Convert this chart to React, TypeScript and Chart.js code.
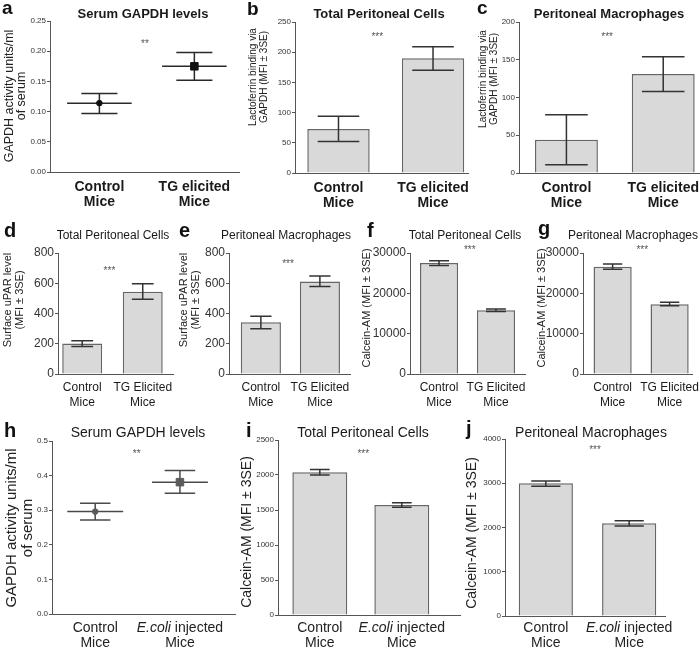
import React, { useEffect, useRef } from "react";
import { Chart, registerables } from "chart.js";

Chart.register(...registerables);

const FONT = "'Liberation Sans', Arial, Helvetica, sans-serif";

// ---------- categories ----------
const catsTG = [["Control", "Mice"], ["TG elicited", "Mice"]];
const catsTGE = [["Control", "Mice"], ["TG Elicited", "Mice"]];
const catsEcoli = [["Control", "Mice"], ["E.coli injected", "Mice"]];
const groupPos = [1, 2];

// ---------- series: mean, lower and upper error limits ----------
const aMean = [0.114, 0.175];
const aLow = [0.097, 0.152];
const aHigh = [0.13, 0.198];
const bMean = [73, 190];
const bLow = [52, 170];
const bHigh = [94, 209];
const cMean = [44, 131];
const cLow = [11, 108];
const cHigh = [77, 154];
const dMean = [202, 544];
const dLow = [182, 494];
const dHigh = [220, 597];
const eMean = [342, 612];
const eLow = [300, 578];
const eHigh = [382, 648];
const fMean = [27500, 15800];
const fLow = [26900, 15500];
const fHigh = [28100, 16100];
const gMean = [26600, 17300];
const gLow = [26000, 16900];
const gHigh = [27300, 17800];
const hMean = [0.296, 0.381];
const hLow = [0.272, 0.349];
const hHigh = [0.32, 0.415];
const iMean = [2038, 1572];
const iLow = [2000, 1540];
const iHigh = [2080, 1605];
const jMean = [3000, 2095];
const jLow = [2932, 2034];
const jHigh = [3052, 2155];

// ---------- significance marks: [text, x value, y value] ----------
const sigA = ["**", 1.48, 0.215];
const sigB = ["***", 1.41, 228];
const sigC = ["***", 1.42, 183];
const sigD = ["***", 1.45, 694];
const sigE = ["***", 1.46, 740];
const sigF = ["***", 1.54, 31240];
const sigG = ["***", 1.52, 31240];
const sigH = ["**", 1.49, 0.468];
const sigI = ["***", 1.53, 2329];
const sigJ = ["***", 1.59, 3797];

const row1 = {
  tickSize: 8, xFontSize: 14, xBold: true, xLineH: 15, xTickLen: 8,
  letterSize: 19, titleFont: `bold 13px ${FONT}`, titleY: 14,
};
const row2 = {
  tickSize: 12, xFontSize: 12, xBold: false, xLineH: 14.5, xTickLen: 6.75,
  letterSize: 20, titleFont: `12px ${FONT}`, titleY: 236,
};
const row3 = {
  tickSize: 8, xFontSize: 14, xBold: false, xLineH: 15, xTickLen: 6,
  letterSize: 20, titleFont: `14px ${FONT}`, titleY: 433, italicX: true, xLabelY: [628, 643],
};

const panels: any[] = [
  {
    ...row1, id: "a", kind: "dot", box: [0, 0, 250, 215], area: [50, 21, 239, 172],
    cats: catsTG, mean: aMean, low: aLow, high: aHigh, xMin: 0.48, xMax: 2.47,
    yMax: 0.25, yStep: 0.05, yDec: 2, capHalf: 0.19, meanHalf: 0.34, pointColor: "#111", errColor: "#2a2a2a",
    letter: "a", letterX: 2, letterY: 14, title: "Serum GAPDH levels", titleX: 143,
    yTitle: ["GAPDH activity units/ml", "of serum"], yTitleX: [10, 22], yTitleY: 96, yTitleSize: 12.5, sig: sigA,
  },
  {
    ...row1, id: "b", kind: "bar", box: [240, 0, 240, 215], area: [295, 22, 468, 173],
    cats: catsTG, mean: bMean, low: bLow, high: bHigh, xMin: 0.54, xMax: 2.37,
    yMax: 250, yStep: 50, yDec: 0, barFrac: 0.66, capHalf: 0.22,
    letter: "b", letterX: 247, letterY: 15, title: "Total Peritoneal Cells", titleX: 379,
    yTitle: ["Lactoferrin binding via", "GAPDH (MFI \u00b1 3SE)"], yTitleX: [253, 264.5], yTitleY: 77, yTitleSize: 10, sig: sigB,
  },
  {
    ...row1, id: "c", kind: "bar", box: [468, 0, 232, 215], area: [519, 22, 700, 173],
    cats: catsTG, mean: cMean, low: cLow, high: cHigh, xMin: 0.51, xMax: 2.38,
    yMax: 200, yStep: 50, yDec: 0, barFrac: 0.65, capHalf: 0.22,
    letter: "c", letterX: 477, letterY: 14, title: "Peritoneal Macrophages", titleX: 609,
    yTitle: ["Lactoferrin binding via", "GAPDH (MFI \u00b1 3SE)"], yTitleX: [483, 494], yTitleY: 79, yTitleSize: 10, sig: sigC,
  },
  {
    ...row2, id: "d", kind: "bar", box: [0, 212, 186, 203], area: [58, 253, 173, 374],
    cats: catsTGE, mean: dMean, low: dLow, high: dHigh, xMin: 0.6, xMax: 2.5,
    yMax: 800, yStep: 200, yDec: 0, barFrac: 0.66, capHalf: 0.18,
    letter: "d", letterX: 4, letterY: 237, title: "Total Peritoneal Cells", titleX: 113,
    yTitle: ["Surface uPAR level", "(MFI \u00b1 3SE)"], yTitleX: [7.5, 20], yTitleY: 300, yTitleSize: 11, sig: sigD,
  },
  {
    ...row2, id: "e", kind: "bar", box: [174, 212, 186, 203], area: [229, 253, 350, 374],
    cats: catsTGE, mean: eMean, low: eLow, high: eHigh, xMin: 0.46, xMax: 2.51,
    yMax: 800, yStep: 200, yDec: 0, barFrac: 0.68, capHalf: 0.18,
    letter: "e", letterX: 179, letterY: 237, title: "Peritoneal Macrophages", titleX: 286,
    yTitle: ["Surface uPAR level", "(MFI \u00b1 3SE)"], yTitleX: [184, 196], yTitleY: 300, yTitleSize: 11, sig: sigE,
  },
  {
    ...row2, id: "f", kind: "bar", box: [352, 212, 186, 203], area: [410, 253, 525, 374],
    cats: catsTGE, mean: fMean, low: fLow, high: fHigh, xMin: 0.49, xMax: 2.51,
    yMax: 30000, yStep: 10000, yDec: 0, barFrac: 0.67, capHalf: 0.175,
    letter: "f", letterX: 367, letterY: 237, title: "Total Peritoneal Cells", titleX: 465,
    yTitle: ["Calcein-AM (MFI \u00b1 3SE)"], yTitleX: [367], yTitleY: 308, yTitleSize: 11, sig: sigF,
  },
  {
    ...row2, id: "g", kind: "bar", box: [528, 212, 172, 203], area: [583, 253, 695, 374],
    cats: catsTGE, mean: gMean, low: gLow, high: gHigh, xMin: 0.48, xMax: 2.41,
    yMax: 30000, yStep: 10000, yDec: 0, barFrac: 0.67, capHalf: 0.17,
    letter: "g", letterX: 538, letterY: 235, title: "Peritoneal Macrophages", titleX: 633,
    yTitle: ["Calcein-AM (MFI \u00b1 3SE)"], yTitleX: [542], yTitleY: 308, yTitleSize: 11, sig: sigG,
  },
  {
    ...row3, id: "h", kind: "dot", box: [0, 412, 250, 238], area: [52, 441, 235, 614],
    cats: catsEcoli, mean: hMean, low: hLow, high: hHigh, xMin: 0.49, xMax: 2.65,
    yMax: 0.5, yStep: 0.1, yDec: 1, capHalf: 0.18, meanHalf: 0.33, pointColor: "#5a5a5a", errColor: "#4a4a4a",
    letter: "h", letterX: 4, letterY: 437, title: "Serum GAPDH levels", titleX: 138,
    yTitle: ["GAPDH activity units/ml", "of serum"], yTitleX: [12, 28], yTitleY: 528, yTitleSize: 15, sig: sigH,
  },
  {
    ...row3, id: "i", kind: "bar", box: [240, 412, 232, 238], area: [278, 440, 460, 615],
    cats: catsEcoli, mean: iMean, low: iLow, high: iHigh, xMin: 0.49, xMax: 2.71,
    yMax: 2500, yStep: 500, yDec: 0, barFrac: 0.67, capHalf: 0.12,
    letter: "i", letterX: 246, letterY: 437, title: "Total Peritoneal Cells", titleX: 363,
    yTitle: ["Calcein-AM (MFI \u00b1 3SE)"], yTitleX: [247], yTitleY: 532, yTitleSize: 14, sig: sigI,
  },
  {
    ...row3, id: "j", kind: "bar", box: [462, 412, 238, 238], area: [505, 439, 665, 616],
    cats: catsEcoli, mean: jMean, low: jLow, high: jHigh, xMin: 0.51, xMax: 2.43,
    yMax: 4000, yStep: 1000, yDec: 0, barFrac: 0.65, capHalf: 0.175,
    letter: "j", letterX: 466, letterY: 435, title: "Peritoneal Macrophages", titleX: 591,
    yTitle: ["Calcein-AM (MFI \u00b1 3SE)"], yTitleX: [472], yTitleY: 533, yTitleSize: 14, sig: sigJ,
  },
];

function drawErrors(chart: any, p: any) {
  const xs = chart.scales.x;
  const ys = chart.scales.y;
  const ctx = chart.ctx;
  const unit = xs.getPixelForValue(2) - xs.getPixelForValue(1);
  ctx.save();
  ctx.strokeStyle = p.kind === "dot" ? p.errColor : "#333";
  ctx.lineWidth = 1.5;
  p.mean.forEach((m: number, i: number) => {
    const x = xs.getPixelForValue(groupPos[i]);
    const yl = ys.getPixelForValue(p.low[i]);
    const yh = ys.getPixelForValue(p.high[i]);
    const ym = ys.getPixelForValue(m);
    const cap = unit * p.capHalf;
    ctx.beginPath();
    ctx.moveTo(x, yl);
    ctx.lineTo(x, yh);
    ctx.moveTo(x - cap, yl);
    ctx.lineTo(x + cap, yl);
    ctx.moveTo(x - cap, yh);
    ctx.lineTo(x + cap, yh);
    if (p.kind === "dot") {
      const mh = unit * p.meanHalf;
      ctx.moveTo(x - mh, ym);
      ctx.lineTo(x + mh, ym);
    }
    ctx.stroke();
  });
  ctx.restore();
}

function drawTexts(chart: any, p: any) {
  const ctx = chart.ctx;
  const ox = p.box[0];
  const oy = p.box[1];
  ctx.save();
  // panel letter
  ctx.fillStyle = "#111";
  ctx.font = `bold ${p.letterSize}px ${FONT}`;
  ctx.textAlign = "left";
  ctx.textBaseline = "alphabetic";
  ctx.fillText(p.letter, p.letterX - ox, p.letterY - oy);
  // title
  ctx.font = p.titleFont;
  ctx.fillStyle = "#1a1a1a";
  ctx.textAlign = "center";
  ctx.textBaseline = "middle";
  ctx.fillText(p.title, p.titleX - ox, p.titleY - oy);
  // y title
  ctx.font = `${p.yTitleSize}px ${FONT}`;
  ctx.fillStyle = "#222";
  p.yTitle.forEach((line: string, k: number) => {
    ctx.save();
    ctx.translate(p.yTitleX[k] - ox, p.yTitleY - oy);
    ctx.rotate(-Math.PI / 2);
    ctx.textAlign = "center";
    ctx.textBaseline = "middle";
    ctx.fillText(line, 0, 0);
    ctx.restore();
  });
  // significance
  const xs = chart.scales.x;
  const ys = chart.scales.y;
  const [st, sx, sy] = p.sig;
  ctx.font = `10px ${FONT}`;
  ctx.fillStyle = "#555";
  ctx.textAlign = "center";
  ctx.textBaseline = "alphabetic";
  ctx.fillText(st, xs.getPixelForValue(sx), ys.getPixelForValue(sy) + 5);
  // italic category labels
  if (p.italicX) {
    ctx.fillStyle = "#222";
    ctx.textBaseline = "middle";
    p.cats.forEach((lines: string[], i: number) => {
      const cx = xs.getPixelForValue(groupPos[i]);
      lines.forEach((line: string, k: number) => {
        const y = p.xLabelY[k] - oy;
        if (line.startsWith("E.coli")) {
          const it = "E.coli";
          const rest = line.slice(it.length);
          ctx.font = `italic ${p.xFontSize}px ${FONT}`;
          const w1 = ctx.measureText(it).width;
          ctx.font = `${p.xFontSize}px ${FONT}`;
          const w2 = ctx.measureText(rest).width;
          const x0 = cx - (w1 + w2) / 2;
          ctx.textAlign = "left";
          ctx.font = `italic ${p.xFontSize}px ${FONT}`;
          ctx.fillText(it, x0, y);
          ctx.font = `${p.xFontSize}px ${FONT}`;
          ctx.fillText(rest, x0 + w1, y);
        } else {
          ctx.font = `${p.xFontSize}px ${FONT}`;
          ctx.textAlign = "center";
          ctx.fillText(line, cx, y);
        }
      });
    });
  }
  ctx.restore();
}

function makeDeco(p: any) {
  return {
    id: "deco_" + p.id,
    beforeDatasetsDraw(chart: any) {
      if (p.kind === "dot") drawErrors(chart, p);
    },
    afterDatasetsDraw(chart: any) {
      if (p.kind === "bar") drawErrors(chart, p);
    },
    afterDraw(chart: any) {
      drawTexts(chart, p);
    },
  };
}

function buildConfig(p: any) {
  const [bx, by, bw, bh] = p.box;
  const [L, T, R, B] = p.area;
  const data = p.mean.map((v: number, i: number) => ({ x: groupPos[i], y: v }));
  const dataset =
    p.kind === "bar"
      ? {
          type: "bar",
          data,
          backgroundColor: "#d9d9d9",
          borderColor: "#666666",
          borderWidth: 1.5,
          barPercentage: p.barFrac,
          categoryPercentage: 1,
        }
      : {
          type: "line",
          data,
          showLine: false,
          pointStyle: ["circle", "rect"],
          pointRadius: [2.8, 5.3],
          pointBorderWidth: 1,
          backgroundColor: p.pointColor,
          borderColor: p.pointColor,
        };
  return {
    type: p.kind === "bar" ? "bar" : "line",
    data: { datasets: [dataset] },
    options: {
      responsive: false,
      animation: false,
      devicePixelRatio: 1,
      events: [],
      layout: { padding: { left: 0, top: T - by, right: bx + bw - R, bottom: 0 } },
      plugins: { legend: { display: false }, tooltip: { enabled: false }, title: { display: false } },
      scales: {
        x: {
          type: "linear",
          min: p.xMin,
          max: p.xMax,
          offset: false,
          afterBuildTicks: (s: any) => {
            s.ticks = groupPos.map((v) => ({ value: v }));
          },
          afterFit: (s: any) => {
            s.height = by + bh - B;
          },
          grid: { display: false, drawTicks: true, tickLength: p.xTickLen },
          border: { display: true, color: "#555", width: 1 },
          ticks: {
            display: !p.italicX,
            autoSkip: false,
            maxRotation: 0,
            minRotation: 0,
            padding: 0,
            color: "#1a1a1a",
            font: { family: FONT, size: p.xFontSize, weight: p.xBold ? "bold" : "normal", lineHeight: p.xLineH + "px" },
            callback: (v: number) => p.cats[Math.round(v) - 1] ?? "",
          },
        },
        y: {
          type: "linear",
          min: 0,
          max: p.yMax,
          afterFit: (s: any) => {
            s.width = L - bx;
          },
          grid: { display: true, drawOnChartArea: false, drawTicks: true, tickLength: 3, color: "#555", lineWidth: 1 },
          border: { display: true, color: "#555", width: 1 },
          ticks: {
            stepSize: p.yStep,
            padding: 1,
            color: "#333",
            font: { family: FONT, size: p.tickSize },
            callback: (v: number) => Number(v).toFixed(p.yDec),
          },
        },
      },
    },
    plugins: [makeDeco(p)],
  };
}

function Panel({ p }: { p: any }) {
  const ref = useRef<HTMLCanvasElement | null>(null);
  useEffect(() => {
    const chart = new Chart(ref.current as HTMLCanvasElement, buildConfig(p) as any);
    return () => chart.destroy();
  }, [p]);
  const [x, y, w, h] = p.box;
  return (
    <div style={{ position: "absolute", left: x, top: y, width: w, height: h }}>
      <canvas ref={ref} width={w} height={h} style={{ width: w, height: h, display: "block" }} />
    </div>
  );
}

export default function App() {
  return (
    <div
      style={{
        position: "fixed",
        left: 0,
        top: 0,
        width: 700,
        height: 650,
        background: "#ffffff",
        overflow: "hidden",
      }}
    >
      {panels.map((p) => (
        <Panel key={p.id} p={p} />
      ))}
    </div>
  );
}
